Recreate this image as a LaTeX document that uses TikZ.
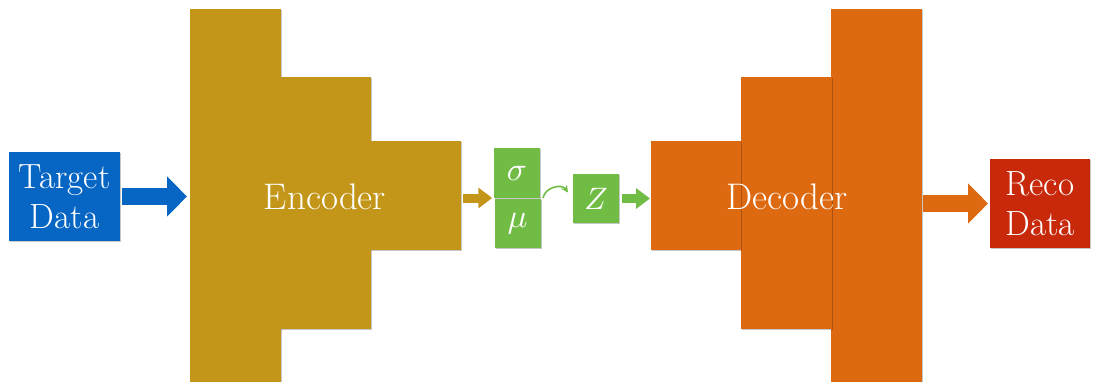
\documentclass[tikz,border=0pt]{standalone}
\usepackage{graphicx}
\usetikzlibrary{arrows.meta,shadows,calc}
\definecolor{cgold}{RGB}{195,150,26}
\definecolor{corange}{RGB}{221,106,16}
\definecolor{cgreen}{RGB}{112,188,68}
\definecolor{cblue}{RGB}{7,102,196}
\definecolor{cred}{RGB}{199,41,10}
\newcommand{\latsym}[1]{\scalebox{3.3}{$#1$}}
\begin{document}
\begin{tikzpicture}[x=1pt,y=-1pt,
  shd/.style={drop shadow={shadow xshift=1.2pt,shadow yshift=-1.2pt,fill=black,opacity=0.22}},
  layer/.style={rectangle,inner sep=0pt,outer sep=0pt,shd},
  enc/.style={layer,fill=cgold},
  dec/.style={layer,fill=corange},
  lbox/.style={rectangle,inner sep=0pt,outer sep=0pt,shd,text=white,align=center,font=\fontsize{35}{40}\selectfont},
  gbox/.style={rectangle,inner sep=0pt,outer sep=0pt,fill=cgreen,text=white,font=\fontsize{10}{12}\selectfont,shd},
  bigtxt/.style={text=white,font=\fontsize{37}{40}\selectfont,inner sep=0pt},
  blockarrow/.style={line width=#1,-{Triangle[length=20pt,width=39pt]}},
  blockarrow/.default=17pt,
  smallarrow/.style={line width=9pt,-{Triangle[length=14pt,width=20pt]}},
]
\useasboundingbox (0,0) rectangle (1099,382);

% Encoder layers
\node[enc,minimum width=91pt,minimum height=374pt] (e1) at (235.5,196) {};
\node[enc,minimum width=91pt,minimum height=252pt] (e2) at (325,203) {};
\node[enc,minimum width=91pt,minimum height=109pt] (e3) at (415.5,195.5) {};
\node[bigtxt] (enc) at (325,197) {Encoder};

% Decoder layers
\node[dec,minimum width=91pt,minimum height=374pt] (d3) at (876.5,196) {};
\node[dec,minimum width=91pt,minimum height=252pt] (d2) at (786.5,203) {};
\node[dec,minimum width=90pt,minimum height=109pt] (d1) at (696,195.5) {};
\node[bigtxt] (decl) at (787,197) {Decoder};

% Input / output boxes
\node[lbox,fill=cblue,minimum width=111pt,minimum height=89pt] (td) at (64.5,196.5) {Target\\Data};
\node[lbox,fill=cred,minimum width=100pt,minimum height=89pt] (rd) at (1040,203.5) {Reco\\Data};

% Latent boxes
\node[gbox,minimum width=46pt,minimum height=50pt] (sig) at (517,173) {\latsym{\sigma}};
\node[gbox,minimum width=46pt,minimum height=49pt] (mu) at (517.5,223.5) {\latsym{\mu}};
\node[gbox,minimum width=46pt,minimum height=49pt] (z) at (596,198.5) {\scalebox{3.1}{$Z$}};

% Arrows
\draw[cblue,blockarrow,shorten <=2pt,shorten >=3pt] (td.east) -- (td.east -| e1.west);
\coordinate (lat) at ($(sig.north west)!0.5!(mu.south west)$);
\draw[cgold,smallarrow,shorten <=2pt,shorten >=2pt] (e3.east |- lat) -- (lat);
\draw[cgreen,smallarrow,shorten <=3pt,shorten >=1pt] (z.east) -- (z.east -| d1.west);
\draw[corange,blockarrow,shorten <=1pt,shorten >=2pt] (d3.east |- rd.west) -- (rd.west);

\coordinate (cs) at ($(sig.south east)+(3,0)$);
\coordinate (ce) at ($(z.west)+(-5,-6)$);
\draw[cgreen,line width=1.6pt,-{Stealth[length=7pt,width=7pt]}] (cs) to[out=80,in=125,looseness=1.1] (ce);
\end{tikzpicture}
\end{document}
